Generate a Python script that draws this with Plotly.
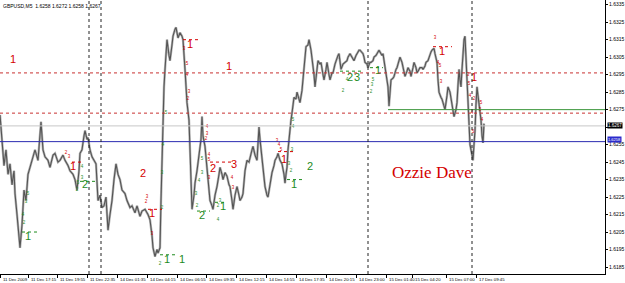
import plotly.graph_objects as go

# ---------------- data ----------------
bar = [0,2,4,6,8,10,12,14,15,17,19,20,22,24,26,28,30,32,35,38,41,43,45,48,50,53,55,58,60,63,65,68,70,73,75,77,79,80,82,84,85,87,88,90,92,94,96,98,100,102,104,106,108,110,112,114,116,118,120,122,125,127,130,132,135,137,140,142,145,148,150,152,153,155,157,158,160,161,162,163,164,165,167,169,170,172,173,175,176,178,180,182,183,185,186,187,189,190,191,192,194,195,197,199,201,202,203,205,207,209,210,212,213,215,217,219,220,222,223,225,227,229,230,232,233,235,237,239,240,242,243,245,247,249,250,252,253,255,257,258,259,260,262,264,265,267,268,270,272,274,275,277,278,280,282,284,285,286,287,288,290,291,292,294,296,297,299,300,302,303,304,305,306,308,309,311,312,314,315,317,318,320,321,323,324,326,327,329,330,332,333,335,336,338,339,340,341,343,345,347,348,350,352,354,356,357,359,360,362,363,364,365,367,368,370,371,373,374,376,377,379,380,382,383,384,385,387,388,389,390,391,393,394,396,397,399,400,402,403,404,405,407,408,410,411,413,414,416,417,419,420,422,423,425,426,428,429,431,432,434,435,437,438,439,441,442,444,445,447,448,450,451,453,454,456,457,458,459,460,461,462,463,464,465,466,467,468,469,470,471,472,473,474,475,476,477,478,479,480,481,482,483,484]
close = [1.6272,1.6258,1.6243,1.6252,1.6238,1.6244,1.6232,1.6240,1.6227,1.6215,1.6203,1.6196,1.6209,1.6229,1.6223,1.6238,1.6242,1.6246,1.6252,1.6246,1.6268,1.6252,1.6248,1.6246,1.6242,1.6249,1.6250,1.6245,1.6246,1.6249,1.6246,1.6243,1.6240,1.6238,1.6235,1.6229,1.6240,1.6250,1.6252,1.6260,1.6263,1.6258,1.6259,1.6252,1.6248,1.6246,1.6244,1.6223,1.6226,1.6219,1.6220,1.6225,1.6206,1.6215,1.6223,1.6235,1.6244,1.6238,1.6235,1.6229,1.6227,1.6223,1.6219,1.6220,1.6216,1.6220,1.6214,1.6217,1.6218,1.6215,1.6212,1.6203,1.6196,1.6191,1.6195,1.6193,1.6196,1.6223,1.6250,1.6269,1.6288,1.6298,1.6315,1.6306,1.6303,1.6312,1.6317,1.6321,1.6322,1.6316,1.6319,1.6317,1.6315,1.6298,1.6289,1.6279,1.6269,1.6252,1.6235,1.6218,1.6226,1.6233,1.6240,1.6250,1.6258,1.6271,1.6260,1.6254,1.6240,1.6229,1.6223,1.6220,1.6218,1.6226,1.6231,1.6238,1.6242,1.6238,1.6235,1.6239,1.6237,1.6232,1.6231,1.6223,1.6218,1.6226,1.6231,1.6226,1.6223,1.6225,1.6227,1.6240,1.6246,1.6245,1.6248,1.6252,1.6254,1.6249,1.6246,1.6258,1.6265,1.6258,1.6246,1.6238,1.6231,1.6226,1.6225,1.6232,1.6239,1.6243,1.6246,1.6248,1.6250,1.6246,1.6244,1.6238,1.6233,1.6238,1.6242,1.6252,1.6265,1.6269,1.6273,1.6282,1.6281,1.6285,1.6281,1.6279,1.6286,1.6292,1.6298,1.6306,1.6311,1.6312,1.6315,1.6309,1.6305,1.6295,1.6288,1.6298,1.6303,1.6301,1.6302,1.6295,1.6292,1.6298,1.6302,1.6295,1.6292,1.6296,1.6296,1.6301,1.6303,1.6306,1.6307,1.6301,1.6298,1.6301,1.6302,1.6303,1.6305,1.6307,1.6305,1.6303,1.6306,1.6307,1.6309,1.6309,1.6308,1.6307,1.6305,1.6302,1.6301,1.6299,1.6302,1.6302,1.6303,1.6305,1.6306,1.6307,1.6309,1.6308,1.6306,1.6307,1.6303,1.6298,1.6292,1.6288,1.6277,1.6283,1.6292,1.6293,1.6294,1.6298,1.6299,1.6303,1.6305,1.6302,1.6299,1.6298,1.6294,1.6297,1.6299,1.6297,1.6294,1.6299,1.6302,1.6299,1.6296,1.6298,1.6299,1.6299,1.6298,1.6300,1.6302,1.6303,1.6305,1.6308,1.6309,1.6310,1.6307,1.6302,1.6292,1.6285,1.6282,1.6281,1.6277,1.6275,1.6283,1.6288,1.6285,1.6282,1.6275,1.6271,1.6275,1.6279,1.6289,1.6298,1.6292,1.6288,1.6298,1.6309,1.6315,1.6317,1.6303,1.6290,1.6278,1.6265,1.6255,1.6252,1.6249,1.6246,1.6255,1.6263,1.6278,1.6288,1.6283,1.6279,1.6274,1.6269,1.6260,1.6256,1.6267]

y_ticks = [1.6185,1.6195,1.6205,1.6215,1.6225,1.6235,1.6245,1.6255,1.6265,1.6275,1.6285,1.6295,1.6305,1.6315,1.6325,1.6335]

time_bar = [0,28,57,87,117,147,177,206,236,266,296,326,356,386,412,446,476]
time_labels = ["11 Dec 2009","11 Dec 17:15","11 Dec 19:55","11 Dec 22:35","14 Dec 01:35","14 Dec 04:15",
               "14 Dec 06:55","14 Dec 09:35","14 Dec 12:15","14 Dec 14:55","14 Dec 17:35","14 Dec 20:15",
               "14 Dec 23:00","15 Dec 01:40","15 Dec 04:20","15 Dec 07:00","17 Dec 09:45"]

separator_bar = [89, 101, 368, 472]

red_level = [1.6296, 1.6273]
bid_line = 1.62657
blue_line = 1.62567
bid_text = "1.6267"
blue_text = "1.6258"
green_level = 1.6275
green_level_start = 388

# big wave labels: bar, price, text
red_big_bar = [13,190,229,73,143,152,213,234,284,442,474]
red_big_price = [1.6303,1.6312,1.6299,1.6242,1.6238,1.6215,1.6241,1.6243,1.6246,1.6308,1.6293]
red_big_text = ["1","1","1","1","2","1","2","3","1","1","1"]

green_big_bar = [28,85,167,182,202,223,310,294,350,357,378]
green_big_price = [1.6202,1.6232,1.6189,1.6189,1.6214,1.6219,1.6242,1.6232,1.6293,1.6293,1.6297]
green_big_text = ["1","2","1","1","2","1","2","1","2","3","1"]

# short dotted level marks: start bar, end bar, price
red_seg = [(183,200,1.6315),(72,82,1.6245),(148,162,1.6218),(210,232,1.6245),(278,293,1.6251),(433,452,1.6311)]
green_seg = [(22,40,1.6205),(80,97,1.6234),(160,178,1.6192),(197,210,1.6217),(215,227,1.6222),(287,305,1.6235),(340,362,1.6297),(370,383,1.6299)]

# small count digits
red_small_bar = [184,187,187,189,188,66,69,147,146,152,207,207,206,209,209,209,232,233,277,279,281,435,438,440,441,468,469,470,474,481,480,472,482,473]
red_small_price = [1.6310,1.6301,1.6295,1.6285,1.6281,1.6250,1.6248,1.6225,1.6222,1.6204,1.6265,1.6261,1.6258,1.6249,1.6246,1.6236,1.6236,1.6230,1.6257,1.6255,1.6252,1.6316,1.6302,1.6300,1.6291,1.6295,1.6290,1.6283,1.6281,1.6279,1.6275,1.6273,1.6269,1.6262]
red_small_text = ["3","5","4","3","2","2","3","3","2","3","4","3","2","4","5","3","4","3","3","4","5","3","4","5","3","3","5","4","2","5","3","4","4","5"]

green_small_bar = [28,26,23,24,82,82,78,77,166,163,162,162,160,202,199,196,197,202,293,293,292,289,291,220,218,218,343,347,371,372,373]
green_small_price = [1.6227,1.6222,1.6215,1.6210,1.6242,1.6236,1.6233,1.6229,1.6273,1.6255,1.6239,1.6219,1.6187,1.6247,1.6234,1.6227,1.6220,1.6239,1.6269,1.6265,1.6252,1.6244,1.6240,1.6223,1.6220,1.6212,1.6286,1.6292,1.6285,1.6289,1.6292]
green_small_text = ["5","3","4","2","4","3","5","2","5","4","3","2","2","5","4","3","2","3","5","4","3","3","2","3","2","4","2","4","2","3","5"]

header = "GBPUSD,M5  1.6258 1.6272 1.6258 1.6267"
signature = "Ozzie Dave"

RED = "#d40000"
GREEN = "#1e8c1e"

fig = go.Figure()

fig.add_trace(go.Scatter(x=bar, y=close, mode="lines",
                         line=dict(color="#b4b4b4", width=2.4), hoverinfo="skip", showlegend=False))
fig.add_trace(go.Scatter(x=bar, y=close, mode="lines",
                         line=dict(color="#555555", width=1.1), hoverinfo="skip", showlegend=False))

fig.add_trace(go.Scatter(x=red_small_bar, y=red_small_price, text=red_small_text, mode="text",
                         textfont=dict(color=RED, size=4.5, family="Liberation Sans"), showlegend=False))
fig.add_trace(go.Scatter(x=green_small_bar, y=green_small_price, text=green_small_text, mode="text",
                         textfont=dict(color=GREEN, size=4.5, family="Liberation Sans"), showlegend=False))
fig.add_trace(go.Scatter(x=red_big_bar, y=red_big_price, text=red_big_text, mode="text",
                         textfont=dict(color=RED, size=11, family="Liberation Sans"), showlegend=False))
fig.add_trace(go.Scatter(x=green_big_bar, y=green_big_price, text=green_big_text, mode="text",
                         textfont=dict(color=GREEN, size=11, family="Liberation Sans"), showlegend=False))

shapes = []
for lv in red_level:
    shapes.append(dict(type="line", xref="paper", x0=0, x1=1, yref="y", y0=lv, y1=lv,
                       line=dict(color="#c83030", width=1, dash="dot")))
shapes.append(dict(type="line", xref="paper", x0=0, x1=1, yref="y", y0=bid_line, y1=bid_line,
                   line=dict(color="#c8c8c8", width=1)))
shapes.append(dict(type="line", xref="paper", x0=0, x1=1, yref="y", y0=blue_line, y1=blue_line,
                   line=dict(color="#2b2bb0", width=1)))
shapes.append(dict(type="line", xref="x", x0=green_level_start, x1=605, yref="y", y0=green_level, y1=green_level,
                   line=dict(color="#3c963c", width=1)))
for sx in separator_bar:
    shapes.append(dict(type="line", xref="x", x0=sx, x1=sx, yref="paper", y0=0, y1=1,
                       line=dict(color="#222222", width=1, dash="dot")))
for (a, b, p) in red_seg:
    shapes.append(dict(type="line", xref="x", x0=a, x1=b, yref="y", y0=p, y1=p,
                       line=dict(color=RED, width=1, dash="dot")))
for (a, b, p) in green_seg:
    shapes.append(dict(type="line", xref="x", x0=a, x1=b, yref="y", y0=p, y1=p,
                       line=dict(color=GREEN, width=1, dash="dot")))

annotations = []
for tb, tl in zip(time_bar, time_labels):
    annotations.append(dict(x=tb, y=0, xref="x", yref="paper", text=tl, showarrow=False,
                            xanchor="left", yanchor="top", xshift=1, yshift=-1,
                            font=dict(size=4.3, color="#000000", family="Liberation Sans")))
annotations.append(dict(x=0, y=1, xref="paper", yref="paper", text=header, showarrow=False,
                        xanchor="left", yanchor="top", xshift=1, yshift=-1,
                        font=dict(size=5, color="#000000", family="Liberation Sans")))
annotations.append(dict(x=432, y=1.6239, xref="x", yref="y", text=signature, showarrow=False,
                        xanchor="center", yanchor="middle",
                        font=dict(size=17, color=RED, family="Liberation Serif")))
annotations.append(dict(x=1, y=bid_line, xref="paper", yref="y", text=bid_text, showarrow=False,
                        xanchor="left", yanchor="middle", xshift=2, bgcolor="#000000", borderpad=0,
                        font=dict(size=4.5, color="#ffffff", family="Liberation Sans")))
annotations.append(dict(x=1, y=blue_line, xref="paper", yref="y", text=blue_text, showarrow=False,
                        xanchor="left", yanchor="middle", xshift=2, yshift=2, bgcolor="#2b2bcc", borderpad=0,
                        font=dict(size=4, color="#ffffff", family="Liberation Sans")))

# the tick label covered by the bid box is left blank (as in the terminal)
tick_text = ["" if abs(v - bid_line) < 0.0002 else f"{v:.4f}" for v in y_ticks]

fig.update_layout(
    width=625, height=283,
    margin=dict(l=0, r=20, t=0, b=9),
    paper_bgcolor="white", plot_bgcolor="white",
    shapes=shapes, annotations=annotations,
    showlegend=False,
)
fig.update_xaxes(range=[0, 605], showgrid=False, zeroline=False, showline=True, linecolor="#000000",
                 linewidth=1, tickmode="array", tickvals=time_bar, ticktext=[""] * len(time_bar),
                 ticks="outside", ticklen=3, tickcolor="#000000", fixedrange=True)
fig.update_yaxes(range=[1.6181, 1.63377], side="right", showgrid=False, zeroline=False, showline=True,
                 linecolor="#000000", linewidth=1, tickmode="array", tickvals=y_ticks,
                 ticktext=tick_text, ticks="outside", ticklen=2,
                 tickcolor="#000000", tickfont=dict(size=5, color="#000000", family="Liberation Sans"),
                 fixedrange=True)

fig.write_html("out.html")
